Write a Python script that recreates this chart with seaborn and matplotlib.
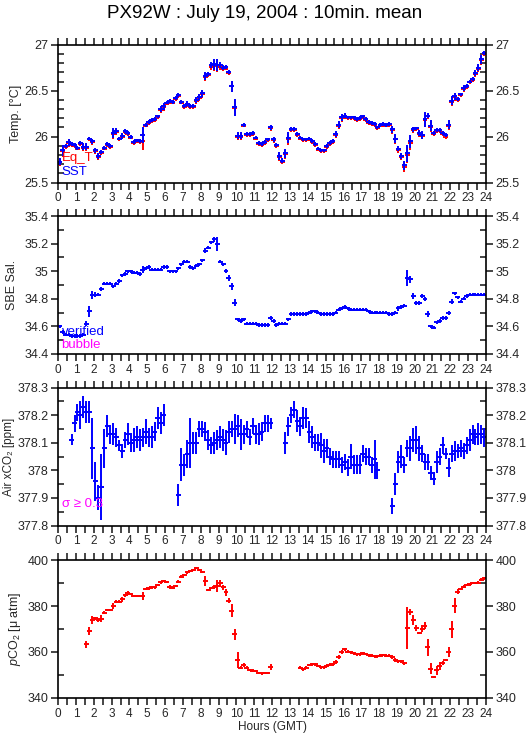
import numpy as np
import matplotlib
matplotlib.use("Agg")
import matplotlib.pyplot as plt
from matplotlib.ticker import MultipleLocator, FuncFormatter
import seaborn as sns

nan = np.nan

# 10-minute bins over the day (hours GMT, bin centres)
hours = np.arange(144) / 6 + 1 / 12
half_bar = 0.14

sst = [25.73, 25.85, 25.90, 25.94, 25.92, 25.91, 25.88, 25.93, 25.89, 25.89, 25.98, 25.95,
       25.85, 25.79, 25.83, 25.88, 25.92, 25.90, 26.04, 26.06, 25.98, 26.01, 26.06, 26.04,
       26.00, 25.94, 25.96, 25.95, 26.02, 26.13, 26.16, 26.18, 26.19, 26.22, 26.30, 26.33,
       26.37, 26.39, 26.38, 26.42, 26.45, 26.38, 26.33, 26.36, 26.33, 26.33, 26.40, 26.43,
       26.47, 26.66, 26.68, 26.78, 26.79, 26.78, 26.78, 26.75, 26.76, 26.70, 26.55, 26.32,
       26.01, 26.01, 26.13, 26.03, 26.03, 26.04, 25.99, 25.93, 25.92, 25.94, 25.97, 26.10,
       25.97, 25.91, 25.79, 25.74, 25.82, 25.99, 26.08, 26.08, 26.03, 25.99, 25.97, 25.97,
       25.98, 25.95, 25.92, 25.87, 25.85, 25.85, 25.90, 25.93, 25.95, 26.03, 26.13, 26.21,
       26.23, 26.21, 26.21, 26.21, 26.19, 26.20, 26.22, 26.19, 26.16, 26.15, 26.14, 26.10,
       26.13, 26.14, 26.13, 26.14, 26.08, 25.98, 25.87, 25.79, 25.69, 25.82, 25.95, 26.08,
       26.09, 26.04, 26.02, 26.19, 26.23, 26.12, 26.04, 26.07, 26.07, 26.04, 26.02, 26.13,
       26.39, 26.44, 26.41, 26.46, 26.53, 26.55, 26.60, 26.63, 26.69, 26.75, 26.84, 26.91]

eq_t = [25.72, 25.84, 25.89, 25.93, 25.91, 25.90, 25.87, 25.92, 25.88, 25.88, 25.97, 25.94,
        25.84, 25.78, 25.82, 25.87, 25.91, 25.89, 26.03, 26.05, 25.97, 26.00, 26.05, 26.03,
        25.99, 25.93, 25.95, 25.94, 25.95, 26.12, 26.15, 26.17, 26.18, 26.21, 26.29, 26.32,
        26.36, 26.38, 26.37, 26.41, 26.44, 26.37, 26.32, 26.35, 26.32, 26.32, 26.39, 26.42,
        26.46, 26.65, 26.67, 26.76, 26.77, 26.77, 26.76, 26.74, 26.74, 26.69, 26.55, 26.31,
        26.00, 26.00, 26.12, 26.02, 26.02, 26.03, 25.98, 25.92, 25.91, 25.93, 25.96, 26.09,
        25.96, 25.90, 25.78, 25.73, 25.81, 25.97, 26.07, 26.07, 26.02, 25.98, 25.96, 25.96,
        25.97, 25.94, 25.91, 25.86, 25.84, 25.84, 25.89, 25.92, 25.94, 26.02, 26.12, 26.20,
        26.22, 26.20, 26.20, 26.20, 26.18, 26.19, 26.21, 26.18, 26.15, 26.14, 26.13, 26.09,
        26.12, 26.13, 26.12, 26.13, 26.07, 25.97, 25.85, 25.78, 25.67, 25.80, 25.93, 26.07,
        26.08, 26.03, 26.01, 26.18, 26.22, 26.11, 26.03, 26.06, 26.06, 26.03, 26.00, 26.12,
        26.38, 26.43, 26.40, 26.45, 26.52, 26.54, 26.59, 26.62, 26.68, 26.74, 26.83, 26.90]

sst_err = [.04, .06, .02, .04, .02, .02, .02, .02, .04, .04, .02, .03,
           .03, .03, .02, .02, .02, .02, .05, .03, .02, .03, .02, .02,
           .02, .02, .02, .02, .09, .02, .02, .02, .02, .02, .03, .04,
           .02, .02, .02, .02, .02, .02, .02, .03, .02, .02, .03, .03,
           .04, .04, .02, .03, .06, .07, .03, .03, .02, .02, .06, .09,
           .04, .04, .02, .02, .02, .02, .02, .02, .02, .02, .02, .03,
           .03, .02, .04, .03, .05, .06, .02, .02, .02, .02, .02, .02,
           .02, .02, .02, .02, .02, .02, .02, .02, .02, .03, .04, .04,
           .03, .02, .02, .02, .02, .02, .02, .02, .02, .02, .02, .02,
           .02, .02, .02, .02, .04, .05, .03, .03, .05, .09, .07, .03,
           .02, .03, .04, .08, .03, .06, .02, .02, .02, .02, .02, .05,
           .05, .04, .02, .02, .03, .02, .02, .02, .03, .04, .05, .02]

sal = [34.60, 34.56, 34.54, 34.54, 34.53, 34.53, 34.53, 34.53, 34.54, 34.62, 34.71, 34.83,
       34.83, 34.83, 34.87, 34.91, 34.91, 34.91, 34.89, 34.91, 34.93, 34.97, 34.98, 35.00,
       35.00, 34.99, 34.99, 34.98, 35.01, 35.02, 35.03, 35.01, 35.01, 35.01, 35.01, 35.03,
       35.03, 35.00, 35.00, 35.00, 35.02, 35.05, 35.07, 35.07, 35.03, 35.02, 35.04, 35.05,
       35.08, 35.15, 35.17, 35.21, 35.23, 35.20, 35.07, 35.05, 35.00, 34.95, 34.89, 34.77,
       34.65, 34.64, 34.65, 34.62, 34.62, 34.62, 34.62, 34.61, 34.61, 34.61, 34.61, 34.66,
       34.64, 34.61, 34.62, 34.62, 34.62, 34.65, 34.69, 34.69, 34.69, 34.69, 34.69, 34.69,
       34.70, 34.71, 34.71, 34.70, 34.69, 34.69, 34.69, 34.69, 34.69, 34.70, 34.72, 34.73,
       34.74, 34.73, 34.72, 34.72, 34.72, 34.72, 34.72, 34.72, 34.71, 34.70, 34.70, 34.70,
       34.70, 34.70, 34.70, 34.69, 34.69, 34.70, 34.73, 34.74, 34.75, 34.95, 34.94, 34.82,
       34.77, 34.77, 34.82, 34.80, 34.69, 34.60, 34.59, 34.63, 34.64, 34.66, 34.66, 34.70,
       34.78, 34.84, 34.81, 34.78, 34.80, 34.82, 34.83, 34.83, 34.83, 34.83, 34.83, 34.83]

sal_err = [.012, .012, .012, .012, .012, .012, .012, .012, .012, .02, .04, .03,
           .02, .012, .012, .012, .012, .012, .012, .012, .012, .012, .012, .012,
           .012, .012, .012, .012, .025, .012, .012, .012, .012, .012, .012, .012,
           .012, .012, .012, .012, .012, .012, .012, .012, .012, .012, .012, .012,
           .012, .015, .012, .012, .02, .05, .012, .012, .015, .02, .025, .025,
           .012, .012, .012, .012, .012, .012, .012, .012, .012, .012, .012, .012,
           .012, .012, .012, .012, .012, .012, .012, .012, .012, .012, .012, .012,
           .012, .012, .012, .012, .012, .012, .012, .012, .012, .012, .012, .012,
           .012, .012, .012, .012, .012, .012, .012, .012, .012, .012, .012, .012,
           .012, .012, .012, .012, .012, .012, .015, .012, .012, .06, .025, .025,
           .012, .012, .012, .015, .025, .012, .012, .012, .012, .012, .012, .015,
           .02, .012, .012, .012, .012, .012, .012, .012, .012, .012, .012, .012]

air_xco2 = [nan, nan, nan, nan, 378.11, 378.17, 378.21, 378.20, 378.23, 378.21, 378.21, 378.08,
            377.96, 377.90, 377.94, 378.08, 378.16, 378.13, 378.13, 378.12, 378.09, 378.07, 378.11, 378.13,
            378.10, 378.11, 378.12, 378.11, 378.12, 378.14, 378.12, 378.12, 378.14, 378.19, 378.17, 378.20,
            nan, nan, nan, nan, 377.91, 378.02, 378.02, 378.06, 378.10, 378.10, 378.10, 378.15,
            378.15, 378.14, 378.11, 378.09, 378.10, 378.11, 378.12, 378.11, 378.10, 378.14, 378.15, 378.15,
            378.16, 378.13, 378.13, 378.15, 378.12, 378.16, 378.13, 378.13, 378.14, 378.17, 378.17, 378.17,
            nan, nan, nan, nan, 378.10, 378.16, 378.20, 378.22, 378.18, 378.16, 378.19, 378.19,
            378.14, 378.12, 378.10, 378.10, 378.09, 378.07, 378.08, 378.05, 378.04, 378.04, 378.04, 378.02,
            378.03, 378.01, 378.05, 378.02, 378.02, 378.02, 378.06, 378.05, 378.05, 378.02, 378.04, 378.00,
            nan, nan, nan, nan, 377.87, 377.95, 378.03, 378.05, 378.02, 378.08, 378.08, 378.11,
            378.11, 378.08, 378.06, 378.03, 378.03, 377.99, 377.97, 378.03, 378.05, 378.09, 378.06, 378.01,
            378.06, 378.07, 378.07, 378.08, 378.07, 378.09, 378.11, 378.13, 378.12, 378.13, 378.13, 378.12]

air_err = [nan, nan, nan, nan, .02, .03, .03, .05, .04, .04, .04, .11,
           .07, .045, .12, .07, .04, .035, .04, .035, .02, .025, .03, .04,
           .035, .045, .04, .04, .035, .045, .035, .04, .035, .04, .04, .04,
           nan, nan, nan, nan, .04, .06, .04, .05, .09, .04, .04, .03,
           .03, .035, .035, .03, .04, .035, .04, .04, .045, .04, .03, .055,
           .04, .055, .035, .03, .03, .03, .035, .04, .035, .03, .03, .02,
           nan, nan, nan, nan, .04, .035, .03, .03, .04, .035, .04, .035,
           .04, .04, .03, .03, .045, .045, .035, .03, .03, .03, .03, .03,
           .03, .03, .045, .035, .035, .035, .03, .03, .03, .03, .07, .03,
           nan, nan, nan, nan, .03, .04, .04, .04, .03, .03, .045, .045,
           .05, .045, .03, .03, .03, .025, .025, .04, .03, .03, .02, .035,
           .03, .035, .025, .03, .03, .03, .04, .035, .03, .04, .035, .035]

pco2 = [nan, nan, nan, nan, nan, nan, nan, nan, nan, 363.3, 369.1, 373.9,
        374.6, 373.9, 374.5, 377.1, 378.3, 378.3, 380.0, 381.9, 381.9, 382.9, 384.6, 385.8,
        385.2, 384.3, 384.3, 384.3, 384.3, 387.4, 387.7, 388.1, 388.1, 389.1, 390.3, 390.9,
        390.3, 388.4, 388.0, 388.6, 390.6, 392.8, 393.5, 394.6, 395.2, 395.7, 396.4, 395.7,
        394.9, 390.9, 387.0, 387.7, 388.4, 388.7, 389.9, 388.1, 385.9, 382.3, 378.0, 367.7,
        356.5, 353.2, 354.3, 353.2, 352.2, 351.9, 351.6, 351.0, 350.7, 350.9, 350.9, 353.4,
        nan, nan, nan, nan, nan, nan, nan, nan, nan, 353.1, 352.4, 353.1,
        354.3, 354.6, 354.6, 353.9, 353.4, 353.4, 354.1, 354.4, 354.6, 355.7, 357.9, 360.1,
        361.1, 360.1, 359.8, 359.4, 359.0, 359.0, 359.5, 359.1, 358.5, 358.4, 358.2, 358.2,
        358.4, 358.7, 358.4, 358.4, 357.8, 356.6, 356.0, 356.0, 355.0, 370.3, 377.4, 373.9,
        370.3, 368.4, 370.2, 371.5, 362.0, 352.7, 349.2, 352.0, 353.9, 355.3, 356.5, 360.0,
        369.9, 380.1, 386.2, 387.3, 388.4, 389.1, 389.5, 390.0, 390.0, 390.2, 391.4, 392.0]

pco2_err = [nan, nan, nan, nan, nan, nan, nan, nan, nan, 1.4, 1.9, 1.8,
            .8, .8, 1.4, .6, .5, .5, 1.2, .5, .5, 1.2, .8, .8,
            .5, .5, .6, .6, 1.7, .6, .6, .6, .6, .5, .6, .5,
            .5, .8, .5, .5, .8, .5, .5, .5, .5, .5, .5, .5,
            .5, 2.0, .5, .5, .8, 2.4, 1.6, 1.0, 1.4, 1.1, 2.8, 2.3,
            3.3, .5, .8, .5, .5, .5, .5, .5, .5, .5, .5, 1.2,
            nan, nan, nan, nan, nan, nan, nan, nan, nan, .6, .6, .6,
            .6, .6, .6, .6, .6, .6, .6, .6, .6, .8, .8, .8,
            .8, .6, .6, .6, .6, .6, .6, .6, .6, .6, .6, .6,
            .6, .6, .6, .6, .8, .8, .6, .6, .6, 9.1, 1.2, 2.3,
            1.3, .5, 1.5, 1.5, 3.6, 2.4, .5, 2.0, 1.6, .8, .5, 2.2,
            3.6, 3.3, 1.1, .5, .6, .6, .6, .6, .6, .6, .6, .5]

sns.set_theme(style="ticks")
plt.rcParams['font.family'] = ['Liberation Sans', 'DejaVu Sans']
plt.rcParams['axes.linewidth'] = 1.2
plt.rcParams['axes.edgecolor'] = 'black'
plt.rcParams['text.color'] = 'black'
plt.rcParams['mathtext.fontset'] = 'custom'
plt.rcParams['mathtext.rm'] = 'Liberation Sans'
plt.rcParams['mathtext.it'] = 'Liberation Sans:italic'

BLUE = '#0000ff'
RED = '#ff0000'
MAGENTA = '#ff00ff'

fig = plt.figure(figsize=(5.29, 7.39), dpi=100)
left, width, height = 0.110, 0.8085, 0.1867
bottoms = [0.7528, 0.521, 0.2889, 0.0555]
axes = [fig.add_axes([left, b, width, height]) for b in bottoms]


def fmt(v, pos):
    return f"{round(v, 3):g}"


def style_axis(ax, ylim, major, minor, ylabel, label_x, label_size=9):
    ax.set_xlim(0, 24)
    ax.set_ylim(*ylim)
    ax.xaxis.set_major_locator(MultipleLocator(1))
    ax.xaxis.set_minor_locator(MultipleLocator(0.5))
    ax.yaxis.set_major_locator(MultipleLocator(major))
    ax.yaxis.set_minor_locator(MultipleLocator(minor))
    ax.yaxis.set_major_formatter(FuncFormatter(fmt))
    ax.tick_params(axis='x', which='both', direction='out', length=5, width=1.2,
                   top=True, bottom=True, labelsize=8.5, pad=2)
    ax.tick_params(axis='y', which='major', direction='out', length=5, width=1.2,
                   left=True, right=True, labelleft=True, labelright=True, labelsize=9, pad=2)
    ax.tick_params(axis='y', which='minor', direction='in', length=4, width=1.2,
                   left=True, right=True)
    ax.set_ylabel(ylabel, fontsize=label_size)
    ax.yaxis.set_label_coords(label_x, 0.5)
    ax.grid(False)


def crosses(ax, y, err, color):
    ax.errorbar(hours, y, xerr=half_bar, yerr=err, fmt='none',
                ecolor=color, elinewidth=1.4, capsize=0)


# Temperature
ax = axes[0]
crosses(ax, eq_t, sst_err, RED)
crosses(ax, sst, sst_err, BLUE)
style_axis(ax, (25.5, 27), 0.5, 0.1, 'Temp. [°C]', -0.085)
ax.text(0.008, 0.18, 'Eq_T', color=RED, fontsize=9.5, transform=ax.transAxes, va='center')
ax.text(0.008, 0.075, 'SST', color=BLUE, fontsize=9.5, transform=ax.transAxes, va='center')

# Salinity
ax = axes[1]
crosses(ax, sal, sal_err, BLUE)
style_axis(ax, (34.4, 35.4), 0.2, 0.1, 'SBE Sal.', -0.093)
ax.text(0.008, 0.16, 'verified', color=BLUE, fontsize=9.5, transform=ax.transAxes, va='center')
ax.text(0.008, 0.065, 'bubble', color=MAGENTA, fontsize=9.5, transform=ax.transAxes, va='center')

# Air xCO2
ax = axes[2]
crosses(ax, air_xco2, air_err, BLUE)
style_axis(ax, (377.8, 378.3), 0.1, 0.05, 'Air xCO₂ [ppm]', -0.102, label_size=8.5)
ax.text(0.008, 0.157, 'σ ≥ 0.3', color=MAGENTA, fontsize=9.5, transform=ax.transAxes, va='center')

# pCO2
ax = axes[3]
crosses(ax, pco2, pco2_err, RED)
style_axis(ax, (340, 400), 20, 10, '$\\mathit{p}$CO$_2$ [μ atm]', -0.083)
ax.set_xlabel('Hours (GMT)', fontsize=8.5, labelpad=1)

fig.suptitle('PX92W : July 19, 2004 : 10min. mean', fontsize=13.5, y=0.993)

fig.savefig('out.png', dpi=100)
